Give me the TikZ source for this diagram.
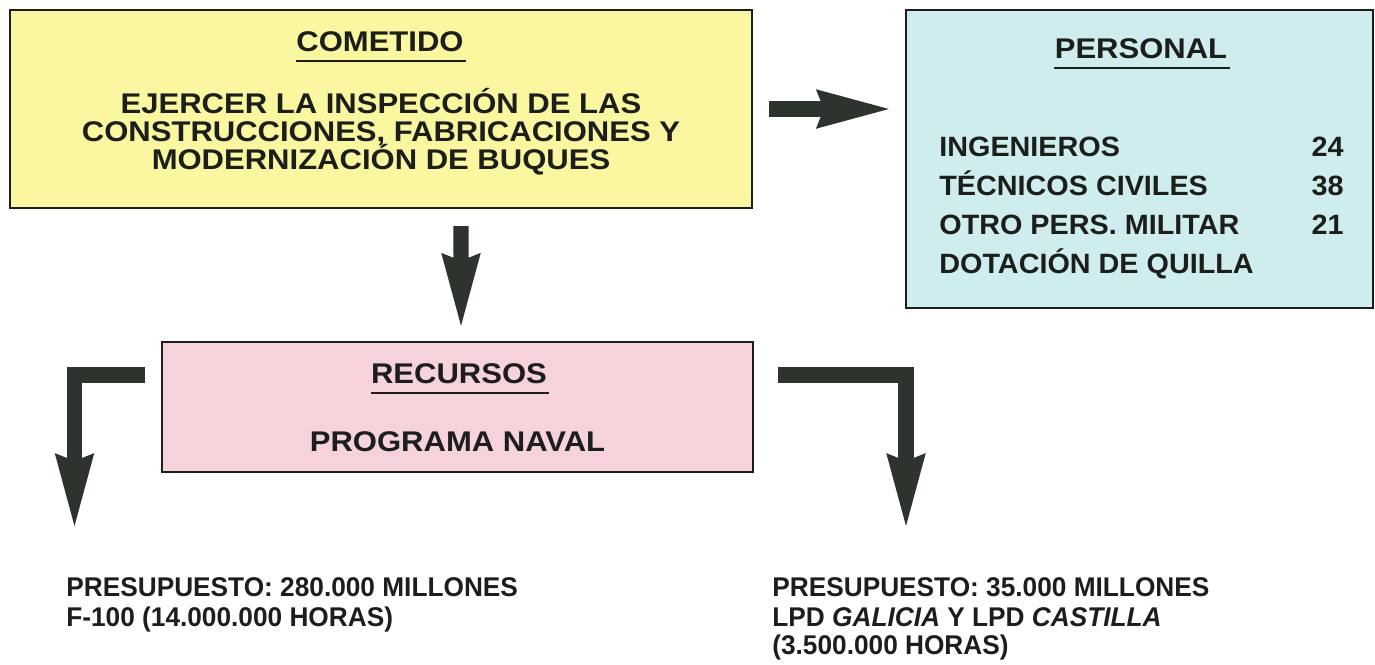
\documentclass[tikz,border=0pt]{standalone}
\usepackage{fontspec}
\setmainfont{Liberation Sans}
\newfontfamily\boxfont[FakeStretch=1.09]{Liberation Sans}
\newfontfamily\listfont[FakeStretch=1.03]{Liberation Sans}
\newfontfamily\budgetfont[FakeStretch=0.97]{Liberation Sans}
\usepackage{tikz}
\usetikzlibrary{arrows.meta,calc}
\definecolor{cometidofill}{RGB}{250,247,160}
\definecolor{personalfill}{RGB}{207,236,238}
\definecolor{recursosfill}{RGB}{246,210,218}
\definecolor{arrowfill}{RGB}{45,52,46}
\definecolor{ink}{RGB}{28,30,28}
\tikzset{
  box/.style      = {draw=ink, line width=1.4pt, rectangle, inner sep=0pt},
  hdr/.style      = {font=\boxfont\bfseries\fontsize{16.2}{16}\selectfont, text=ink, anchor=base, inner sep=0pt},
  body/.style     = {font=\boxfont\bfseries\fontsize{16.2}{16}\selectfont, text=ink, anchor=base, inner sep=0pt},
  item/.style     = {font=\listfont\bfseries\fontsize{15.9}{22.2}\selectfont, text=ink, anchor=base west, inner sep=0pt},
  num/.style      = {font=\listfont\bfseries\fontsize{15.9}{22.2}\selectfont, text=ink, anchor=base east, inner sep=0pt},
  budget/.style   = {font=\budgetfont\bfseries\fontsize{15.4}{17.1}\selectfont, text=ink, anchor=base west, inner sep=0pt},
  uline/.style    = {draw=ink, line width=0.85pt},
  bigarrow/.style = {draw=arrowfill, line width=8.8pt, line join=miter,
                     -{Stealth[length=41.5pt, width=22.5pt, inset=4.5pt, line width=0pt]}},
}
\begin{document}
\begin{tikzpicture}[x=0.02cm, y=-0.02cm]
  \useasboundingbox (0,0) rectangle (1375,664);

  % the three boxes
  \node[box, fill=cometidofill, minimum width=14.84cm, minimum height=3.96cm] (cometido) at (381,109) {};
  \node[box, fill=personalfill, minimum width=9.34cm, minimum height=5.96cm] (personal) at (1139.5,159) {};
  \node[box, fill=recursosfill, minimum width=11.82cm, minimum height=2.6cm] (recursos) at (457.5,407) {};

  % headings
  \node[hdr] (cometidohdr) at (380,51) {COMETIDO};
  \node[hdr] (personalhdr) at (1141,58) {PERSONAL};
  \node[hdr] (recursoshdr) at (459,383) {RECURSOS};
  \foreach \h in {cometidohdr, personalhdr, recursoshdr} {
    \draw[uline] ($(\h.base west)+(0,10)$) -- ($(\h.base east)+(2,10)$);
  }

  \foreach \l/\y [count=\i] in {{EJERCER LA INSPECCIÓN DE LAS}/113, {CONSTRUCCIONES, FABRICACIONES Y}/141, {MODERNIZACIÓN DE BUQUES}/169} {
    \node[body] (cometido\i) at (381,\y) {\l};
  }
  \node[body] (programa) at (457.5,451) {PROGRAMA NAVAL};

  % staff list
  \foreach \t/\y [count=\i] in {INGENIEROS/156, TÉCNICOS CIVILES/195, OTRO PERS. MILITAR/234, DOTACIÓN DE QUILLA/273} {
    \node[item] (persona\i) at (939,\y) {\t};
  }
  \foreach \n/\y [count=\i] in {24/156, 38/195, 21/234} {
    \node[num] (cifra\i) at (1344,\y) {\n};
  }

  % budgets
  \foreach \l/\y [count=\i] in {{PRESUPUESTO: 280.000 MILLONES}/596, {F-100 (14.000.000 HORAS)}/626} {
    \node[budget] (fragata\i) at (66,\y) {\l};
  }
  \foreach \l/\y [count=\i] in {{PRESUPUESTO: 35.000 MILLONES}/596, {LPD \textit{GALICIA} Y LPD \textit{CASTILLA}}/626, {(3.500.000 HORAS)}/654} {
    \node[budget] (lpd\i) at (772,\y) {\l};
  }

  % arrows
  \coordinate (ltip) at (74.5,526);
  \coordinate (rtip) at (906,526);
  \draw[bigarrow, shorten >=0.32cm] ([xshift=0.32cm]cometido.east) -- (cometido.east -| personal.west);
  \draw[bigarrow, shorten >=0.3cm] ($(cometido.south)+(80,17)$) -- ($(recursos.north)+(3.5,0)$);
  \draw[bigarrow] ($(recursos.west)+(-16,-32)$) -| (ltip);
  \draw[bigarrow] ($(recursos.east)+(24,-32)$) -| (rtip);
\end{tikzpicture}
\end{document}
